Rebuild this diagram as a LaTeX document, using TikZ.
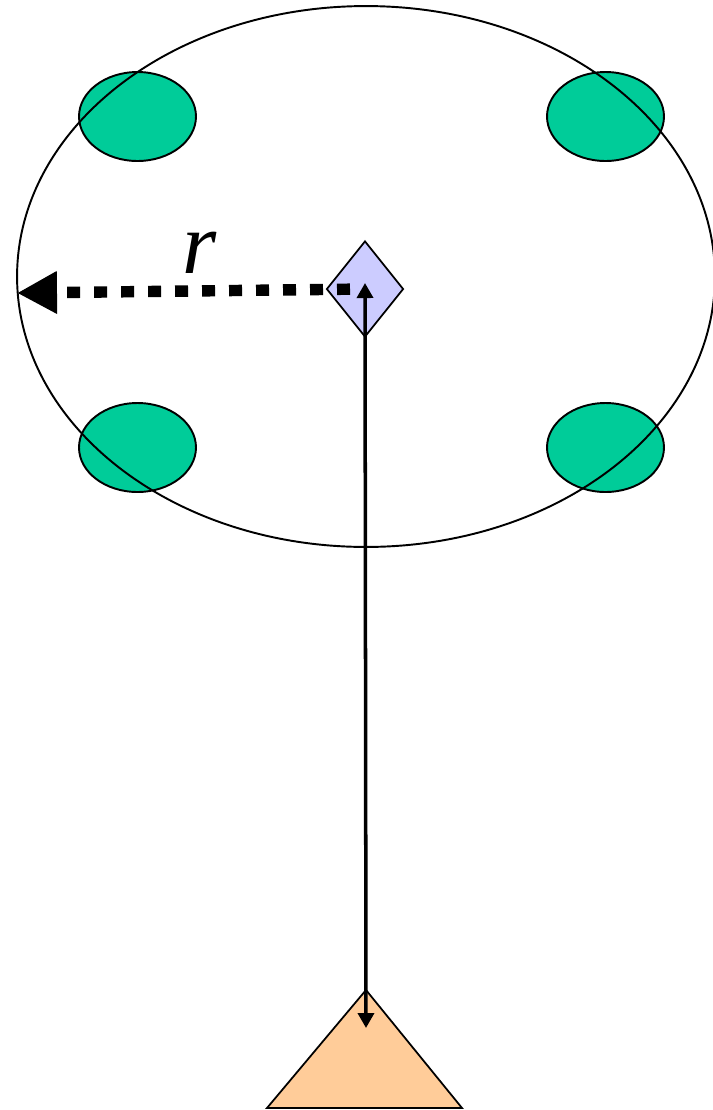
\documentclass[tikz,border=0pt]{standalone}
\usepackage{fontspec}
\setmainfont{Liberation Serif}
\usetikzlibrary{arrows.meta, positioning, shapes.geometric}

\definecolor{padgreen}{HTML}{00CC99}
\definecolor{hubblue}{HTML}{CCCCFF}
\definecolor{basepeach}{HTML}{FFCC99}

\begin{document}
\begin{tikzpicture}[x=0.02cm, y=-0.02cm,
  pad/.style={ellipse, draw, line width=1.1pt, fill=padgreen, minimum width=2.34cm, minimum height=1.78cm, inner sep=0pt},
  hub/.style={diamond, draw, line width=1pt, fill=hubblue, minimum width=1.54cm, minimum height=1.92cm, inner sep=0pt},
  radius line/.style={line width=6.5pt, dash pattern=on 0.26cm off 0.28cm, shorten <=0.3cm, -{Triangle[length=0.8cm, width=0.8cm]}},
  tether/.style={line width=2pt, {Triangle[length=0.3cm, width=0.32cm]}-{Triangle[length=0.3cm, width=0.32cm]}}]
\useasboundingbox (0,0) rectangle (713,1110);

% Pads
\node[pad] (padNW) at (137.5,116.5) {};
\node[pad] (padNE) at (605.5,116.5) {};
\node[pad] (padSW) at (137.5,447.5) {};
\node[pad] (padSE) at (605.5,447.5) {};

% Outer ring
\draw[line width=1.1pt] (366,276.5) ellipse [x radius=6.98cm, y radius=5.41cm];
\coordinate (rim) at (17,293);

% Centre
\node[hub] (hub) at (365,289) {};

% Base
\filldraw[fill=basepeach, draw=black, line width=1pt] (366,990) -- (462,1108) -- (267,1108) -- cycle;
\coordinate (apex) at (366,990);
\coordinate (drop) at (366,1028);

% Arrows
\draw[radius line] (hub.center) -- (rim);
\draw[tether] ([yshift=0.12cm]hub.center) -- (drop);

% Label
\node[anchor=base, inner sep=0pt] (rlabel) at (200,273) {\fontsize{50}{50}\selectfont\textit{r}};
\end{tikzpicture}
\end{document}
